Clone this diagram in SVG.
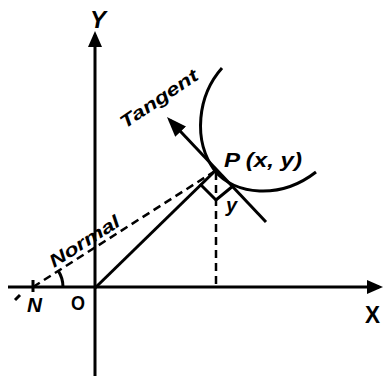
<svg xmlns="http://www.w3.org/2000/svg" width="384" height="376" viewBox="0 0 384 376">
<style>
.ln{stroke:#000;stroke-width:3;fill:none;stroke-linecap:butt}
.ds{stroke:#000;stroke-width:2.5;fill:none;stroke-dasharray:8 5}
.lb{font-family:"Liberation Sans",Arial,sans-serif;font-weight:bold;fill:#000}
.it{font-style:italic}
</style>
<defs>
<marker id="arr" markerUnits="userSpaceOnUse" viewBox="0 0 16 14" markerWidth="16" markerHeight="14" refX="12" refY="7" orient="auto">
<path d="M0,0 L16,7 L0,14 Z" fill="#000"/>
</marker>
<marker id="arrT" markerUnits="userSpaceOnUse" viewBox="0 0 20 15" markerWidth="20" markerHeight="15" refX="16" refY="7.5" orient="auto">
<path d="M0,0 L20,7.5 L0,15 Z" fill="#000"/>
</marker>
</defs>
<rect width="384" height="376" fill="#fff"/>
<g id="axes">
<line class="ln" x1="95" y1="376" x2="95" y2="35" marker-end="url(#arr)"/>
<line class="ln" x1="8" y1="287" x2="379" y2="287" marker-end="url(#arr)"/>
<line class="ln" x1="33" y1="280" x2="33" y2="292" stroke-width="2.5"/>
<line class="ln" x1="15" y1="300" x2="20" y2="295" stroke-width="2.5"/>
</g>
<g id="curve">
<path class="ln" d="M222,68 C198,95 192,140 215,171 C235,195 280,200 316,172"/>
</g>
<g id="connectors">
<line id="OP" class="ln" x1="95" y1="288" x2="215" y2="171"/>
<line id="normal" class="ds" x1="33" y1="287" x2="215" y2="171"/>
<line id="tangent" class="ln" x1="266" y1="222" x2="169.7" y2="120" marker-end="url(#arrT)"/>
<line id="ordinate" class="ds" x1="216" y1="172" x2="216" y2="287"/>
<polyline id="rightangle" class="ln" points="200,184 216,200 233,186"/>
<path id="angleN" class="ln" stroke-width="2" d="M63,287 A30,30 0 0 0 58.3,270.9"/>
</g>
<g id="labels">
<text class="lb it" x="90" y="28" font-size="24">Y</text>
<text class="lb" x="365" y="323" font-size="23" textLength="15" lengthAdjust="spacingAndGlyphs">X</text>
<text class="lb" x="71" y="310" font-size="21" textLength="14" lengthAdjust="spacingAndGlyphs">O</text>
<text class="lb it" x="27" y="312" font-size="21" textLength="15" lengthAdjust="spacingAndGlyphs">N</text>
<text class="lb it" x="224" y="167" font-size="21" textLength="78" lengthAdjust="spacingAndGlyphs">P (x, y)</text>
<text class="lb it" x="226" y="212" font-size="20">y</text>
<text class="lb it" font-size="18" transform="translate(125,129) rotate(-34)" textLength="90" lengthAdjust="spacingAndGlyphs">Tangent</text>
<text class="lb it" font-size="18" transform="translate(54,268) rotate(-32.5)" textLength="80" lengthAdjust="spacingAndGlyphs">Normal</text>
</g>
</svg>
